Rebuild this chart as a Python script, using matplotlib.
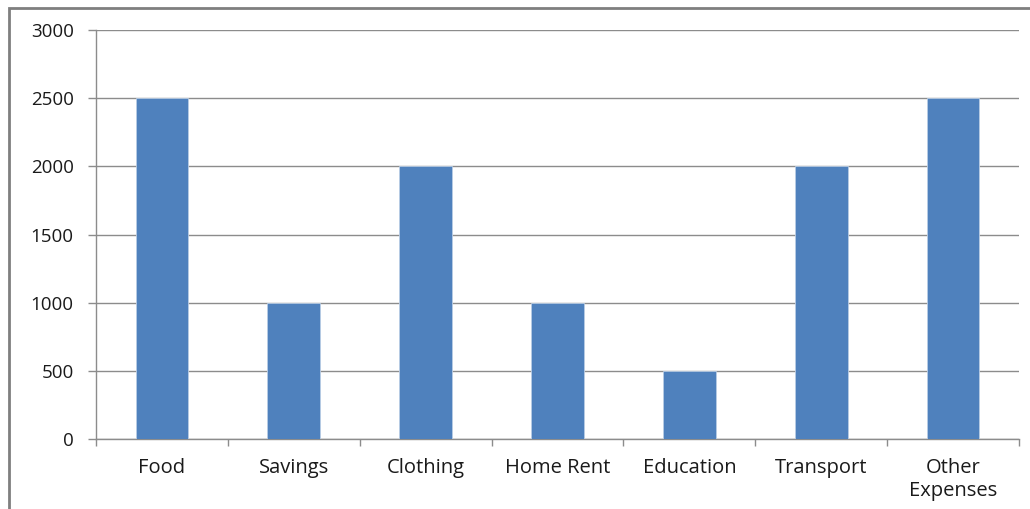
import matplotlib.pyplot as plt
from matplotlib.patches import Rectangle
import numpy as np

# Expense categories and amounts
categories = ['Food', 'Savings', 'Clothing', 'Home Rent', 'Education', 'Transport', 'Other\nExpenses']
amounts = [2500, 1000, 2000, 1000, 500, 2000, 2500]
yticks = [0, 500, 1000, 1500, 2000, 2500, 3000]

plt.rcParams['font.family'] = ['Open Sans', 'DejaVu Sans']

fig = plt.figure(figsize=(10.3, 5.09), dpi=100)
ax = fig.add_axes([96 / 1030, 1 - 439 / 509, 923 / 1030, 409 / 509])

# outer frame of the pasted chart
fig.patches.append(Rectangle((9 / 1030, -0.05), 1.1, 1 - 8 / 509 + 0.05,
                             transform=fig.transFigure, fill=False,
                             edgecolor='#7f7f7f', linewidth=2))

x = np.arange(len(categories))
ax.bar(x, amounts, width=0.4, color='#4F81BD', edgecolor='#B9CDE5', linewidth=0.6, zorder=3)

ax.set_xlim(-0.5, len(categories) - 0.5)
ax.set_ylim(0, 3000)
ax.set_yticks(yticks)
ax.set_yticklabels([str(v) for v in yticks], fontsize=13.5, color='#1a1a1a')
ax.yaxis.grid(True, color='#8c8c8c', linewidth=1, zorder=0)

ax.set_xticks(x)
ax.set_xticklabels(categories, fontsize=14.5, color='#1a1a1a', linespacing=1.2, va='top')
ax.set_xticks(np.arange(len(categories) + 1) - 0.5, minor=True)
ax.tick_params(axis='x', which='major', length=0, pad=14)
ax.tick_params(axis='x', which='minor', length=5, color='#8c8c8c', width=1)
ax.tick_params(axis='y', length=6, color='#8c8c8c', width=1, pad=10)

for side in ['top', 'right']:
    ax.spines[side].set_visible(False)
for side in ['left', 'bottom']:
    ax.spines[side].set_color('#8c8c8c')
    ax.spines[side].set_linewidth(1)

fig.savefig('out.png', dpi=100)
